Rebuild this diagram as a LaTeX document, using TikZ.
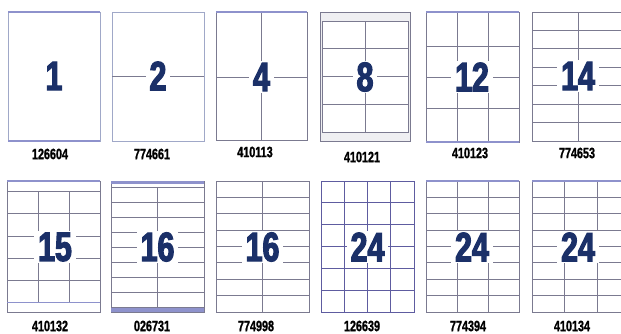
\documentclass[tikz,border=0pt]{standalone}
\usepackage{fontspec}
\newfontfamily\numfont[FakeStretch=0.74,FakeBold=3]{Liberation Sans}
\newfontfamily\labfont[FakeStretch=0.72,FakeBold=1.2]{Liberation Sans}
\definecolor{navy}{HTML}{1B3068}
\definecolor{gridc}{HTML}{7B7A90}
\definecolor{edgec}{HTML}{A0A8C8}
\definecolor{bandc}{HTML}{8E92CC}
\definecolor{purp}{HTML}{5E5CA0}
\definecolor{margc}{HTML}{EFEFF2}
\begin{document}
\begin{tikzpicture}[x=1pt,y=-1pt,
  grid/.style={draw=gridc, line width=1pt},
  pgrid/.style={draw=purp, line width=1pt},
  edge/.style={draw=edgec, line width=0.8pt},
  band/.style={draw=bandc, line width=1.8pt},
  num/.style={fill=white, inner xsep=4pt, inner ysep=1.5pt, text=navy,
    font=\numfont\bfseries\fontsize{41}{41}\selectfont},
  lab/.style={inner sep=0pt, text=black,
    font=\labfont\bfseries\fontsize{15}{15}\selectfont}]
\useasboundingbox[fill=white] (0,0) rectangle (621,333);

% ---------- top row ----------
% sheet 1
\draw[edge] (8,12) rectangle (100,141);
\draw[band] (8,12) -- (100,12);
\draw[band] (8,141) -- (100,141);
% sheet 2
\draw[edge] (112,12) rectangle (204,141);
\draw[grid] (112,76) -- (204,76);
% sheet 3 (4)
\draw[grid] (216,12) rectangle (307,140);
\draw[grid] (261.5,12) -- (261.5,140);
\draw[grid] (216,77) -- (307,77);
\draw[band] (216,12) -- (307,12);
% sheet 4 (8)
\draw[grid, fill=margc] (320,12) rectangle (410,141);
\draw[grid, fill=white] (322,21) rectangle (408,132);
\foreach \yy in {48,76,104} \draw[grid] (322,\yy) -- (408,\yy);
\draw[grid] (365,21) -- (365,132);
% sheet 5 (12)
\draw[grid] (426,12) rectangle (519,142);
\foreach \xx in {457,488} \draw[grid] (\xx,12) -- (\xx,142);
\foreach \yy in {46,77,108} \draw[grid] (426,\yy) -- (519,\yy);
\draw[band] (426,12) -- (519,12);
\draw[band] (426,142) -- (519,142);
% sheet 6 (14)
\draw[grid] (621,12) -- (532,12) -- (532,141) -- (621,141);
\draw[grid] (578,12) -- (578,141);
\foreach \k in {1,...,6} \draw[grid] (532,{12+\k*18.43}) -- (621,{12+\k*18.43});

% ---------- bottom row ----------
% sheet 7 (15)
\draw[grid] (7,181) rectangle (100,312);
\foreach \yy in {191,213,236,258,280,302} \draw[grid] (7,\yy) -- (100,\yy);
\foreach \xx in {38,69} \draw[grid] (\xx,191) -- (\xx,302);
\draw[band] (7,181) -- (100,181);
\draw[draw=bandc, line width=1pt] (7,302) -- (100,302);
% sheet 8 (16, 026731)
\draw[grid] (111,181) rectangle (204,312);
\foreach \k in {0,...,8} \draw[grid] (111,{187+\k*15}) -- (204,{187+\k*15});
\draw[grid] (157.5,187) -- (157.5,307);
\fill[bandc] (111,181) rectangle (204,184);
\fill[bandc] (111,308) rectangle (204,312);
% sheet 9 (16, 774998)
\draw[grid] (216,181) rectangle (309,312);
\foreach \k in {1,...,7} \draw[grid] (216,{181+\k*16.375}) -- (309,{181+\k*16.375});
\draw[grid] (262.5,181) -- (262.5,312);
% sheet 10 (24, 126639)
\draw[pgrid] (321,181) rectangle (414,312);
\foreach \k in {1,...,3} \draw[pgrid] ({321+\k*23.25},181) -- ({321+\k*23.25},312);
\foreach \k in {1,...,5} \draw[pgrid] (321,{181+\k*21.83}) -- (414,{181+\k*21.83});
% sheet 11 (24, 774394)
\draw[grid] (426,181) rectangle (519,312);
\foreach \xx in {457,488} \draw[grid] (\xx,181) -- (\xx,312);
\foreach \k in {1,...,7} \draw[grid] (426,{181+\k*16.375}) -- (519,{181+\k*16.375});
\draw[band] (426,181) -- (519,181);
% sheet 12 (24, 410134)
\draw[grid] (621,181) -- (532,181) -- (532,312) -- (621,312);
\foreach \xx in {564,597} \draw[grid] (\xx,181) -- (\xx,312);
\foreach \k in {1,...,7} \draw[grid] (532,{181+\k*16.375}) -- (621,{181+\k*16.375});
\draw[band] (532,181) -- (621,181);

% ---------- numbers ----------
\node[num] (n1) at (54,76) {1};
\node[num] (n2) at (158,76) {2};
\node[num] (n4) at (261.5,77) {4};
\node[num] (n8) at (365,77) {8};
\node[num] (n12) at (472,77) {12};
\node[num] (n14) at (578,76) {14};
\node[num] (n15) at (55,247) {15};
\node[num] (n16a) at (157.5,247) {16};
\node[num] (n16b) at (262.5,247) {16};
\node[num] (n24a) at (367.5,247) {24};
\node[num] (n24b) at (472,247) {24};
\node[num] (n24c) at (578,247) {24};

% ---------- labels ----------
\node[lab] (l1) at (50,154) {126604};
\node[lab] (l2) at (152,154) {774661};
\node[lab] (l3) at (255,152) {410113};
\node[lab] (l4) at (362,157) {410121};
\node[lab] (l5) at (470,153) {410123};
\node[lab] (l6) at (577,153) {774653};
\node[lab] (l7) at (50,326) {410132};
\node[lab] (l8) at (152,326) {026731};
\node[lab] (l9) at (256,326) {774998};
\node[lab] (l10) at (362,326) {126639};
\node[lab] (l11) at (468,326) {774394};
\node[lab] (l12) at (572,326) {410134};
\end{tikzpicture}
\end{document}
